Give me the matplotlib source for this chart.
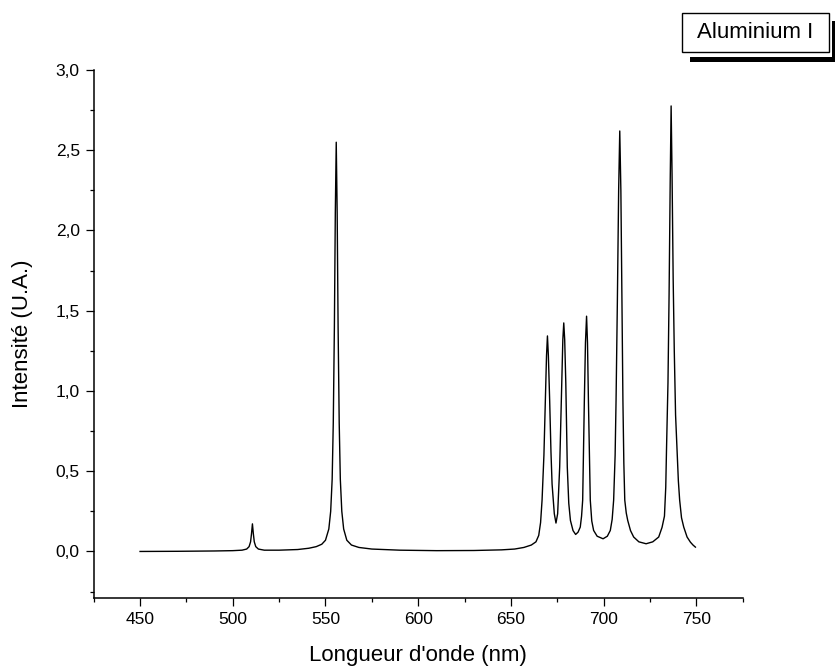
import matplotlib
matplotlib.use("Agg")
import matplotlib.pyplot as plt
from matplotlib.ticker import MultipleLocator, FuncFormatter
from matplotlib.patches import Rectangle

plt.rcParams['font.family'] = ['Liberation Sans', 'DejaVu Sans']

# spectrum read point by point (nm, arbitrary units)
wavelength = [
    450, 470, 490, 500, 505, 507.5, 508.8, 509.6, 510.1, 510.6, 511.1, 511.6,
    512.4, 513.8, 517, 525, 535, 541, 545, 548, 550, 551.8, 552.8, 553.6,
    554.2, 554.8, 555.3, 555.8, 556.3, 556.8, 557.4, 558.0, 558.8, 559.8,
    561.5, 564, 568, 575, 590, 610, 630, 645, 652, 657, 661, 663.5, 665.0,
    666.0, 666.8, 667.8, 668.6, 669.2, 669.7, 670.2, 670.9, 671.6, 672.2,
    673.4, 674.3, 675.2, 676.3, 677.4, 678.0, 678.5, 679.0, 679.6, 680.4,
    681.2, 682.1, 683.5, 684.9, 686.2, 687.4, 688.1, 688.7, 689.6, 690.2,
    690.8, 691.3, 691.8, 692.8, 693.6, 694.6, 696.5, 699.7, 702.0, 703.6,
    704.6, 705.4, 706.2, 706.7, 707.4, 708.1, 708.7, 709.3, 709.9, 710.4,
    710.9, 711.4, 712.2, 713.0, 714.5, 716.2, 719.0, 722.9, 726.5, 729.7,
    731.5, 732.8, 733.5, 733.9, 734.7, 735.3, 735.9, 736.4, 736.9, 737.5,
    738.1, 738.8, 739.6, 740.3, 741.0, 742.0, 743.2, 745.0, 746.8, 748.2,
    749.5,
]
intensity = [
    0.000, 0.001, 0.003, 0.005, 0.008, 0.015, 0.030, 0.060, 0.110, 0.172, 0.110, 0.060,
    0.030, 0.015, 0.008, 0.008, 0.012, 0.020, 0.030, 0.045, 0.070, 0.140, 0.250, 0.450,
    0.800, 1.400, 2.110, 2.550, 2.110, 1.400, 0.800, 0.450, 0.250, 0.140,
    0.070, 0.040, 0.025, 0.015, 0.008, 0.005, 0.006, 0.010, 0.015, 0.025, 0.040, 0.060, 0.100,
    0.180, 0.320, 0.600, 0.940, 1.220, 1.343, 1.220, 0.940, 0.620, 0.420,
    0.235, 0.177, 0.235, 0.526, 1.050, 1.320, 1.424, 1.320, 1.050, 0.526,
    0.300, 0.193, 0.130, 0.106, 0.120, 0.152, 0.220, 0.320, 0.940, 1.300,
    1.466, 1.300, 0.940, 0.320, 0.190, 0.131, 0.095, 0.079, 0.095, 0.131,
    0.200, 0.320, 0.600, 0.940, 1.550, 2.250, 2.620, 2.250, 1.550, 0.940,
    0.550, 0.320, 0.240, 0.193, 0.130, 0.090, 0.060, 0.048, 0.060, 0.090,
    0.150, 0.220, 0.400, 0.630, 1.050, 1.600, 2.300, 2.776, 2.350, 1.700,
    1.250, 0.850, 0.630, 0.440, 0.320, 0.210, 0.152, 0.090, 0.058, 0.040,
    0.027,
]

x_limits = (425, 775)
y_limits = (-0.29, 3.0)
legend_text = "Aluminium I"

W, H = 835, 671
fig = plt.figure(figsize=(W / 100, H / 100), dpi=100)
ax = fig.add_axes([93.7 / W, 1 - 598 / H, (742.7 - 93.7) / W, (598 - 70) / H])

ax.plot(wavelength, intensity, color='black', lw=1.0)

ax.set_xlim(*x_limits)
ax.set_ylim(*y_limits)
ax.spines['top'].set_visible(False)
ax.spines['right'].set_visible(False)
for s in ('left', 'bottom'):
    ax.spines[s].set_linewidth(1.1)

ax.xaxis.set_minor_locator(MultipleLocator(25))
ax.yaxis.set_major_locator(MultipleLocator(0.5))
ax.yaxis.set_minor_locator(MultipleLocator(0.25))
ax.set_xticks([t for t in range(450, 751, 50)])
ax.yaxis.set_major_formatter(FuncFormatter(lambda v, p: f"{v:.1f}".replace('.', ',')))
ax.tick_params(which='major', direction='out', length=6, width=0.9, labelsize=12.5, pad=4)
ax.tick_params(which='minor', direction='out', length=3, width=0.9)

ax.set_xlabel("Longueur d'onde (nm)", fontsize=16, labelpad=13)
ax.set_ylabel("Intensité (U.A.)", fontsize=16, labelpad=16)

# boxed label with drop shadow, placed in figure pixels
bx0, by0, bx1, by1 = 682, 13, 829, 52
def frac_rect(x0, y0, x1, y1, **kw):
    return Rectangle((x0 / W, 1 - y1 / H), (x1 - x0) / W, (y1 - y0) / H,
                     transform=fig.transFigure, **kw)

fig.patches.append(frac_rect(bx0 + 8, by0 + 8, bx1 + 10, by1 + 10, facecolor='black', lw=0))
fig.patches.append(frac_rect(bx0, by0, bx1 + 3, by1 + 5, facecolor='white', lw=0))
fig.patches.append(frac_rect(bx0, by0, bx1, by1, facecolor='white', edgecolor='black', lw=1.0))
fig.text((bx0 + bx1) / 2 / W, 1 - (by0 + by1) / 2 / H, legend_text,
         ha='center', va='center', fontsize=16)

fig.savefig("out.png", dpi=100)
